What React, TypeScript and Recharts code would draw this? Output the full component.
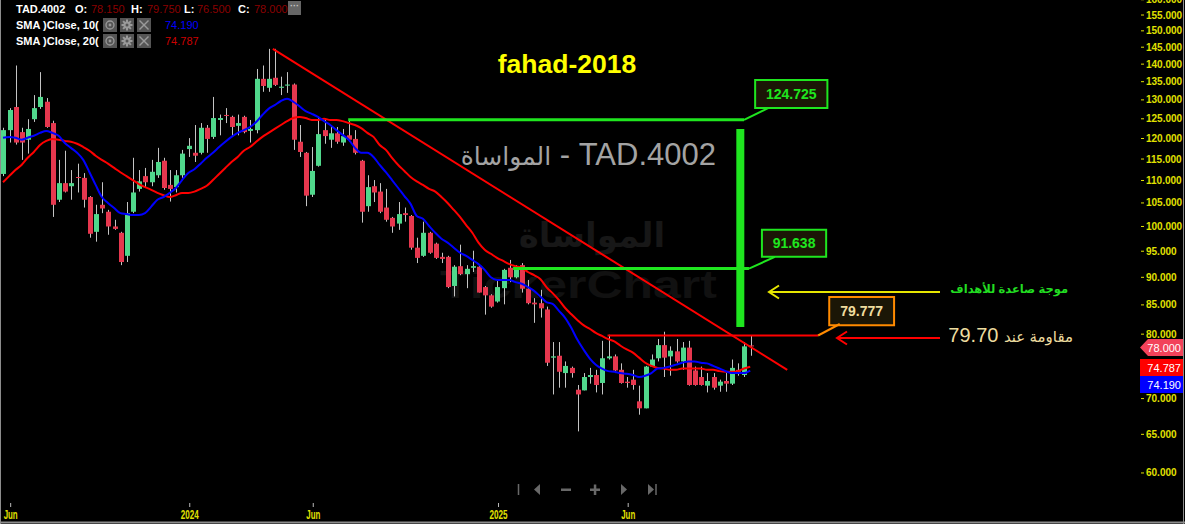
import React from "react";
import { ComposedChart, Bar, Line, XAxis, YAxis, ReferenceLine, ReferenceArea } from "recharts";

const W = 1185;
const H = 524;
const FONT = "'Liberation Sans', Arial, 'DejaVu Sans', sans-serif";

// weekly candles, TAD.4002
const opens = [111.5,122.1,128.1,121.6,119.7,124.9,128.1,129.5,123.9,105.7,
109.4,108.7,110.8,110.6,106.3,98.9,104.6,103.1,100.0,98.7,
94.1,103.1,108.1,111.0,109.6,111.2,114.6,109.0,108.5,111.2,
117.4,116.5,116.5,122.7,120.4,124.7,126.0,125.5,123.2,125.5,
121.9,122.1,135.8,133.3,136.1,133.3,133.9,134.2,119.2,116.5,
106.8,113.4,122.1,119.7,121.3,119.0,120.8,119.9,114.6,104.3,
108.7,107.5,104.0,101.8,100.6,102.8,102.2,95.7,94.1,98.7,
96.5,93.9,93.9,88.4,92.1,90.6,91.8,92.0,88.2,86.7,
85.6,88.0,91.8,90.0,92.3,87.9,85.4,85.3,84.2,76.2,
76.5,73.8,74.6,71.3,71.2,73.2,73.5,72.3,76.1,76.4,
74.3,72.5,72.8,69.6,68.6,74.8,76.1,78.2,76.4,77.2,
75.6,77.8,74.2,73.2,71.9,73.2,71.9,72.6,72.2,74.3,
73.5,78.15];

const highs = [122.7,127.8,139.6,122.7,124.9,131.3,137.7,130.5,124.5,114.8,
117.0,112.4,113.9,111.7,106.5,104.6,109.6,103.5,101.4,98.9,
105.2,115.3,112.4,112.9,114.8,117.7,115.3,112.4,112.4,117.2,
120.1,123.4,123.9,123.4,130.8,126.1,127.8,125.8,126.1,125.8,
124.7,138.6,139.6,144.5,144.5,136.4,137.7,134.5,123.4,116.7,
117.9,125.5,125.2,122.9,122.9,122.4,124.7,122.1,114.8,111.2,
110.1,109.4,108.1,102.0,105.2,104.0,102.4,97.7,101.0,98.9,
96.7,94.7,94.1,92.3,96.3,92.3,95.1,92.3,88.4,86.9,
89.3,91.6,93.3,92.3,92.7,89.5,86.2,87.7,84.7,78.7,
78.7,75.6,74.8,72.0,73.8,74.6,74.3,78.9,79.9,76.7,
75.3,73.2,74.3,71.9,74.9,76.7,79.2,80.4,78.0,79.2,
78.7,78.9,74.8,74.8,73.8,73.8,72.8,73.8,75.9,75.3,
78.7,79.75];

const lows = [111.0,119.0,118.5,114.8,116.3,124.2,127.6,122.7,102.0,105.2,
107.3,105.7,107.3,104.0,97.7,96.9,102.8,98.3,99.3,92.3,
92.9,102.8,107.5,108.3,108.7,110.6,107.9,105.3,107.3,110.6,
115.5,114.3,116.1,116.5,119.9,120.8,123.9,120.4,120.8,121.3,
119.0,121.3,132.2,132.2,133.8,131.3,131.9,117.2,115.5,104.3,
106.3,113.2,118.7,117.7,118.7,118.2,119.2,116.1,100.8,103.1,
105.2,102.8,101.0,98.7,99.3,101.0,95.3,92.7,93.9,94.5,
93.5,92.7,88.0,86.5,90.4,88.0,91.0,87.2,83.3,84.5,
85.4,85.1,89.1,89.8,87.2,85.1,81.9,82.8,74.9,70.6,
71.6,71.6,73.1,65.4,71.2,72.2,70.9,70.6,75.9,73.8,
72.2,71.6,71.3,67.7,68.6,74.8,75.6,73.2,73.4,75.4,
74.3,71.9,71.9,71.9,70.9,71.3,71.0,71.0,72.0,73.4,
73.2,76.5];

const closes = [122.1,127.3,119.0,119.0,122.4,127.8,130.8,122.9,104.6,109.4,
107.5,109.4,110.6,105.7,98.5,102.6,103.8,100.0,99.5,92.9,
102.8,107.3,109.8,109.6,112.0,114.3,108.3,108.1,111.2,116.3,
118.2,115.8,122.7,119.9,125.2,125.2,125.8,122.9,123.9,121.6,
122.4,135.8,133.8,135.8,134.1,133.6,134.2,119.7,116.7,106.6,
112.2,121.1,120.6,121.3,119.2,120.6,119.7,116.5,103.1,108.5,
107.3,103.1,101.4,100.0,102.6,102.4,95.7,93.7,98.7,94.7,
93.7,93.5,88.2,92.0,90.6,91.6,92.1,87.2,86.7,84.7,
88.2,91.4,90.0,91.8,87.9,85.3,85.1,84.4,75.4,76.4,
74.0,74.9,73.8,70.6,73.2,73.5,72.0,76.1,76.4,74.2,
72.3,72.3,72.0,68.6,74.8,75.9,78.2,76.2,77.3,75.6,
77.8,72.0,72.0,72.0,72.6,71.6,72.5,72.2,74.6,74.0,
78.0,78.0];

const sma10 = [120.2,120.4,120.2,119.7,120.2,120.7,121.4,121.9,121.4,120.7,
118.9,117.7,116.5,114.8,111.9,109.0,106.3,105.0,103.9,102.8,
102.6,102.4,102.4,102.8,104.2,105.7,106.3,107.2,108.3,110.1,
111.7,112.6,113.9,115.3,116.5,117.9,119.2,120.4,121.4,122.1,
122.9,124.2,126.0,127.6,128.6,129.7,130.3,129.5,128.3,127.0,
126.3,125.5,124.4,123.4,122.1,120.9,119.7,117.7,116.5,116.5,
115.5,113.6,111.9,110.1,108.3,106.5,104.8,102.2,101.6,100.1,
98.7,97.5,96.7,95.7,94.7,94.1,93.3,92.5,91.4,90.0,
89.5,89.5,89.5,89.1,88.8,88.2,87.5,86.5,85.5,85.2,
84.0,82.8,81.1,79.1,77.5,76.1,75.1,74.5,74.1,74.0,
73.8,73.7,73.5,73.2,73.4,73.8,74.5,74.6,74.8,75.1,
75.4,75.6,75.6,75.4,75.3,74.9,74.5,74.1,73.8,73.8,
73.8,74.19];

const sma20 = [109.6,111.0,112.4,113.6,115.3,116.7,118.4,119.4,119.9,119.7,
119.4,119.2,118.7,117.9,117.0,115.8,114.8,113.9,112.9,111.9,
111.0,110.1,109.2,108.5,107.9,107.2,106.7,106.3,106.7,107.2,
107.2,107.5,108.1,108.8,110.1,111.5,112.9,114.3,115.5,117.0,
117.9,119.2,120.4,121.4,122.4,123.4,124.4,125.2,125.5,125.2,
124.7,124.7,125.0,124.7,124.7,124.4,123.9,123.4,122.6,121.4,
120.4,118.4,117.2,115.3,113.6,112.2,110.8,109.8,109.0,108.1,
107.5,106.3,105.0,103.5,102.0,100.3,98.7,96.7,95.3,94.5,
93.7,93.1,92.5,92.1,91.8,91.0,90.4,89.7,88.2,87.1,
85.9,84.5,83.4,82.4,81.5,80.9,80.2,79.7,79.2,78.8,
78.1,77.5,77.0,76.2,75.4,74.9,74.6,74.5,74.3,74.3,
74.5,74.5,74.5,74.5,74.3,74.3,74.1,74.0,74.0,74.1,
74.5,74.787];

const monthTickIndex = [1, 30, 50, 80, 101];
const monthTickLabels = ["Jun", "2024", "Jun", "2025", "Jun"];
const priceTicks = [60, 65, 70, 80, 85, 90, 95, 100, 105, 110, 115, 120, 125, 130, 135, 140, 145, 150, 155, 160];

// annotations (data units: candle index, price)
const trendLine = [{ x: 43.7, y: 144.5 }, { x: 127, y: 74.3 }];
const targets = [
  { value: 124.725, from: 55.9, to: 120.0, tip: { x: 123.9, y: 127.8 }, box: { x1: 121.8, x2: 133.5, y1: 127.8, y2: 135.5 } },
  { value: 91.638, from: 82.6, to: 120.8, tip: { x: 125.0, y: 93.9 }, box: { x1: 122.9, x2: 133.3, y1: 93.9, y2: 99.3 } },
];
const waveBar = { x: 119.4, from: 81.2, to: 122.4 };
const resistance = { value: 79.777, from: 97.9, to: 132.0, tip: { x: 135.5, y: 81.7 }, box: { x1: 133.8, x2: 144.3, y1: 81.5, y2: 86.4 } };

const UP = "#50d88c";
const DOWN = "#e6374e";
const WICK = "#c4c4c4";
const LIME = "#1fe61f";
const AXIS_Y = "#e0e000";

const rows = opens.map((o, i) => ({
  i,
  open: o,
  high: highs[i],
  low: lows[i],
  close: closes[i],
  range: [lows[i], highs[i]],
  sma10: sma10[i],
  sma20: sma20[i],
}));

const Candle = (props: any) => {
  const { x, y, width, height, payload } = props;
  if (!payload || x == null || y == null) return null;
  const { open, close, high, low } = payload;
  const top = Math.min(y, y + height);
  const bot = Math.max(y, y + height);
  const lh = Math.log(high);
  const ll = Math.log(low);
  const yOf = (v: number) => (lh === ll ? top : top + ((bot - top) * (lh - Math.log(v))) / (lh - ll));
  const cx = Math.round(x + width / 2) + 0.5;
  const yo = yOf(open);
  const yc = yOf(close);
  const bt = Math.min(yo, yc);
  const bh = Math.max(1, Math.abs(yo - yc));
  const up = close > open;
  return (
    <g>
      <line x1={cx} x2={cx} y1={top} y2={bot} stroke={WICK} strokeWidth={1} />
      <rect x={cx - 2.5} y={bt} width={5} height={bh} fill={up ? UP : DOWN} />
    </g>
  );
};

const YTick = (props: any) => {
  const { x, y, payload } = props;
  return (
    <g>
      <line x1={x + 3} x2={x + 6} y1={y} y2={y} stroke={AXIS_Y} strokeWidth={1} />
      <text x={x + 8} y={y} dy="0.35em" fill={AXIS_Y} fontSize={10} fontWeight="bold" fontFamily={FONT}>
        {Number(payload.value).toFixed(3)}
      </text>
    </g>
  );
};

const XTick = (props: any) => {
  const { x, y, payload } = props;
  const k = monthTickIndex.indexOf(payload.value);
  const label = k >= 0 ? monthTickLabels[k] : "";
  return (
    <g>
      <line x1={x + 1.5} x2={x + 1.5} y1={y + 3} y2={y + 7} stroke="#bbbbbb" strokeWidth={1} />
      <text x={x + 1.5} y={y + 19} textAnchor="middle" fill={AXIS_Y} fontSize={12} fontWeight="bold" fontFamily={FONT}
        textLength={label.length === 3 ? 14 : 18} lengthAdjust="spacingAndGlyphs">
        {label}
      </text>
    </g>
  );
};

const IconBox = ({ x, y, kind }: { x: number; y: number; kind: string }) => (
  <g>
    <rect x={x} y={y} width={14} height={14} fill="#555555" />
    {kind === "eye" && (
      <g>
        <circle cx={x + 7} cy={y + 7} r={4} fill="none" stroke="#9a9a9a" strokeWidth={1.3} />
        <circle cx={x + 7} cy={y + 7} r={1.4} fill="#9a9a9a" />
      </g>
    )}
    {kind === "gear" && (
      <g>
        <circle cx={x + 7} cy={y + 7} r={3.6} fill="#9a9a9a" />
        {[0, 45, 90, 135].map((a) => (
          <line key={a} x1={x + 7 - 5.5 * Math.cos((a * Math.PI) / 180)} y1={y + 7 - 5.5 * Math.sin((a * Math.PI) / 180)}
            x2={x + 7 + 5.5 * Math.cos((a * Math.PI) / 180)} y2={y + 7 + 5.5 * Math.sin((a * Math.PI) / 180)}
            stroke="#9a9a9a" strokeWidth={2} />
        ))}
        <circle cx={x + 7} cy={y + 7} r={1.5} fill="#555555" />
      </g>
    )}
    {kind === "x" && (
      <g stroke="#9a9a9a" strokeWidth={1.4}>
        <line x1={x + 2.5} y1={y + 2.5} x2={x + 11.5} y2={y + 11.5} />
        <line x1={x + 11.5} y1={y + 2.5} x2={x + 2.5} y2={y + 11.5} />
      </g>
    )}
  </g>
);

export default function App() {
  const lbl = { fill: "#ffffff", fontSize: 11, fontWeight: "bold" as const, fontFamily: FONT };
  const val = (c: string) => ({ fill: c, fontSize: 11, fontFamily: FONT });
  return (
    <div style={{ position: "absolute", left: 0, top: 0, width: W, height: H, background: "#000", overflow: "hidden" }}>
      {/* faint background watermarks */}
      <svg width={W} height={H} style={{ position: "absolute", left: 0, top: 0 }}>
        <text x={592} y={247} textAnchor="middle" fill="#171717" fontSize={34} fontWeight="bold" fontFamily={FONT}>المواساة</text>
        <text x={440} y={298} fill="#111111" fontSize={38} fontWeight="bold" fontFamily={FONT} textLength={277} lengthAdjust="spacingAndGlyphs">TickerChart</text>
      </svg>

      <div style={{ position: "absolute", left: 0, top: 0 }}>
        <ComposedChart width={W} height={H} data={rows} margin={{ top: 0, right: 0, bottom: 0, left: 0 }}>
          <XAxis dataKey="i" type="number" domain={[-0.486, 183.8]} allowDataOverflow ticks={monthTickIndex}
            interval={0} tick={<XTick />} tickLine={false} axisLine={false} tickSize={0} tickMargin={0} height={24} />
          <YAxis orientation="right" type="number" scale="log" domain={[56.73, 159.9]} allowDataOverflow
            ticks={priceTicks} interval={0} tick={<YTick />} tickLine={false} axisLine={false} tickSize={0} tickMargin={0} width={47} />

          <Bar dataKey="range" barSize={5} isAnimationActive={false} shape={(p: any) => <Candle {...p} />} />
          <Line dataKey="sma20" type="monotone" stroke="#ff0000" strokeWidth={2} dot={false} activeDot={false} isAnimationActive={false} />
          <Line dataKey="sma10" type="monotone" stroke="#0000ff" strokeWidth={2} dot={false} activeDot={false} isAnimationActive={false} />

          <ReferenceLine segment={trendLine} stroke="#ff0000" strokeWidth={2} ifOverflow="visible" />

          {targets.map((t) => (
            <ReferenceLine key={"h" + t.value} segment={[{ x: t.from, y: t.value }, { x: t.to, y: t.value }]} stroke={LIME} strokeWidth={3} ifOverflow="visible" />
          ))}
          {targets.map((t) => (
            <ReferenceLine key={"p" + t.value} segment={[{ x: t.to, y: t.value }, t.tip]} stroke={LIME} strokeWidth={2} ifOverflow="visible" />
          ))}
          {targets.map((t) => (
            <ReferenceArea key={"b" + t.value} x1={t.box.x1} x2={t.box.x2} y1={t.box.y1} y2={t.box.y2} fill="#1b1606" fillOpacity={1}
              stroke={LIME} strokeWidth={2} ifOverflow="visible"
              label={{ value: t.value.toFixed(3), position: "center", fill: LIME, fontSize: 14, fontWeight: "bold", fontFamily: FONT }} />
          ))}
          <ReferenceLine segment={[{ x: waveBar.x, y: waveBar.from }, { x: waveBar.x, y: waveBar.to }]} stroke={LIME} strokeWidth={8} ifOverflow="visible" />

          <ReferenceLine segment={[{ x: resistance.from, y: resistance.value }, { x: resistance.to, y: resistance.value }]} stroke="#ff0000" strokeWidth={2} ifOverflow="visible" />
          <ReferenceLine segment={[{ x: resistance.to, y: resistance.value }, resistance.tip]} stroke="#ff8a00" strokeWidth={2} ifOverflow="visible" />
          <ReferenceArea x1={resistance.box.x1} x2={resistance.box.x2} y1={resistance.box.y1} y2={resistance.box.y2} fill="#1b1606" fillOpacity={1}
            stroke="#ff8a00" strokeWidth={2} ifOverflow="visible"
            label={{ value: resistance.value.toFixed(3), position: "center", fill: "#efdc9e", fontSize: 14, fontWeight: "bold", fontFamily: FONT }} />
        </ComposedChart>
      </div>

      {/* overlay */}
      <svg width={W} height={H} style={{ position: "absolute", left: 0, top: 0, pointerEvents: "none" }}>
        <line x1={0.5} y1={0} x2={0.5} y2={H} stroke="#8c8c8c" strokeWidth={1} />
        <line x1={1183.5} y1={0} x2={1183.5} y2={H} stroke="#8c8c8c" strokeWidth={1} />
        <line x1={0} y1={522.5} x2={W} y2={522.5} stroke="#8c8c8c" strokeWidth={2} />

        {/* legend */}
        <text x={16} y={13} {...lbl}>TAD.4002</text>
        <text x={75} y={13} {...lbl}>O:</text>
        <text x={91} y={13} {...val("#8b0000")}>78.150</text>
        <text x={131} y={13} {...lbl}>H:</text>
        <text x={147} y={13} {...val("#8b0000")}>79.750</text>
        <text x={184} y={13} {...lbl}>L:</text>
        <text x={197} y={13} {...val("#8b0000")}>76.500</text>
        <text x={238} y={13} {...lbl}>C:</text>
        <text x={254} y={13} {...val("#8b0000")}>78.000</text>
        <rect x={288} y={1} width={13} height={14} fill="#666666" />
        <text x={294.5} y={9} textAnchor="middle" fill="#c8c8c8" fontSize={9} fontWeight="bold" fontFamily={FONT}>···</text>

        <text x={16} y={29} {...lbl}>SMA )Close, 10(</text>
        <IconBox x={103} y={18} kind="eye" />
        <IconBox x={120} y={18} kind="gear" />
        <IconBox x={137} y={18} kind="x" />
        <text x={165} y={29} {...val("#0000ff")}>74.190</text>

        <text x={16} y={45} {...lbl}>SMA )Close, 20(</text>
        <IconBox x={103} y={34} kind="eye" />
        <IconBox x={120} y={34} kind="gear" />
        <IconBox x={137} y={34} kind="x" />
        <text x={165} y={45} {...val("#cc0000")}>74.787</text>

        {/* title */}
        <text x={567} y={73} textAnchor="middle" fill="#ffff00" fontSize={26.5} fontWeight="bold" fontFamily={FONT}>fahad-2018</text>

        {/* arrows */}
        <g stroke="#e6e600" strokeWidth={2} fill="none">
          <line x1={769} y1={292} x2={940} y2={292} />
          <polyline points="779,285.5 769,292 779,298.5" />
        </g>
        <g stroke="#ff0000" strokeWidth={2} fill="none">
          <line x1={837} y1={338} x2={940} y2={338} />
          <polyline points="847,331.5 837,338 847,344.5" />
        </g>

        {/* price tags */}
        <polygon points="1140,347.5 1148,339 1183,339 1183,356 1148,356" fill="#f2425a" />
        <text x={1181} y={351.5} textAnchor="end" fill="#ffffff" fontSize={11} fontFamily={FONT}>78.000</text>
        <rect x={1140} y={359} width={43} height={17} fill="#ff0000" />
        <text x={1181} y={371.5} textAnchor="end" fill="#ffffff" fontSize={11} fontFamily={FONT}>74.787</text>
        <rect x={1140} y={376} width={43} height={17} fill="#0000ff" />
        <text x={1181} y={388.5} textAnchor="end" fill="#ffffff" fontSize={11} fontFamily={FONT}>74.190</text>

        {/* navigation */}
        <g fill="#686868" stroke="#686868">
          <line x1={518.5} y1={484} x2={518.5} y2={495} strokeWidth={1.5} />
          <polygon points="534,489.5 540,484 540,495" stroke="none" />
          <rect x={561} y={488.5} width={10} height={2.5} stroke="none" />
          <rect x={590} y={488.5} width={10} height={2.5} stroke="none" />
          <rect x={593.8} y={484.5} width={2.5} height={10.5} stroke="none" />
          <polygon points="621,484 627,489.5 621,495" stroke="none" />
          <polygon points="648,484 654,489.5 648,495" stroke="none" />
          <line x1={656} y1={484} x2={656} y2={495} strokeWidth={1.5} />
        </g>
      </svg>

      {/* texts needing bidi */}
      <div style={{ position: "absolute", right: W - 716, top: 139, fontSize: 31, lineHeight: "32px", color: "#a3a3a3", fontFamily: FONT, whiteSpace: "nowrap", direction: "ltr" }}>
        <span style={{ fontSize: 25 }}>المواساة</span> - TAD.4002
      </div>
      <div dir="rtl" style={{ position: "absolute", right: W - 1068, top: 283, fontSize: 11.5, lineHeight: "13px", fontWeight: "bold", color: "#22dd22", fontFamily: FONT, whiteSpace: "nowrap" }}>
        موجة صاعدة للأهداف
      </div>
      <div dir="rtl" style={{ position: "absolute", right: W - 1073, top: 325, fontSize: 20, lineHeight: "20px", color: "#eddc9f", fontFamily: FONT, whiteSpace: "nowrap" }}>
        <span style={{ fontSize: 15 }}>مقاومة عند</span> 79.70
      </div>
    </div>
  );
}
